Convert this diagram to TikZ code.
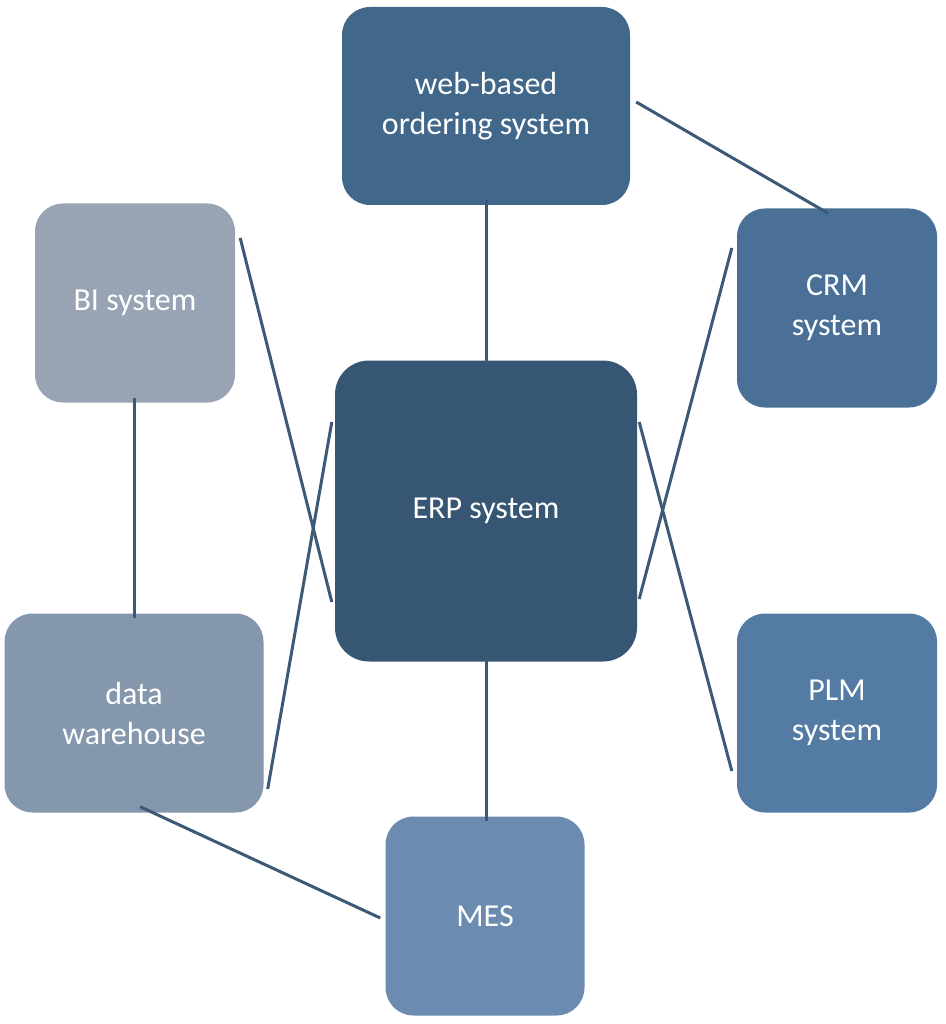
\documentclass[tikz,border=0pt]{standalone}
\usepackage{fontspec}
\setmainfont{Carlito}
\begin{document}
\begin{tikzpicture}[x=1pt,y=-1pt,
  box/.style={draw=none,rounded corners=28pt,text=white,align=center,
    font=\fontsize{32}{40}\selectfont,inner sep=0pt},
  conn/.style={draw=lineC,line width=3pt}]
\definecolor{lineC}{HTML}{3C5A78}
\definecolor{cWeb}{HTML}{41678B}
\definecolor{cCRM}{HTML}{4A7098}
\definecolor{cERP}{HTML}{375674}
\definecolor{cBI}{HTML}{98A4B3}
\definecolor{cDW}{HTML}{8597AD}
\definecolor{cPLM}{HTML}{537BA4}
\definecolor{cMES}{HTML}{6C8BB0}
\useasboundingbox (0,0) rectangle (945,1024);
\node[box,fill=cWeb,minimum width=288pt,minimum height=198pt] (web) at (486,106) {web-based\\ordering system};
\node[box,fill=cCRM,minimum width=200pt,minimum height=199pt] (crm) at (837,308) {CRM\\system};
\node[box,fill=cERP,minimum width=302pt,minimum height=301pt,rounded corners=34pt] (erp) at (486,511) {ERP system};
\node[box,fill=cBI,minimum width=200pt,minimum height=199pt] (bi) at (135,303) {BI system};
\node[box,fill=cDW,minimum width=259pt,minimum height=199pt] (dw) at (134,713) {data\\warehouse};
\node[box,fill=cPLM,minimum width=200pt,minimum height=199pt] (plm) at (837,713) {PLM\\system};
\node[box,fill=cMES,minimum width=199pt,minimum height=199pt] (mes) at (485,916) {MES};
\draw[conn] ([yshift=5]web.south) -- ([yshift=-4]erp.north);
\draw[conn] ([xshift=6,yshift=4]web.east) -- ([xshift=-9,yshift=-5]crm.north);
\draw[conn] ([xshift=2,yshift=-88]erp.east) -- ([xshift=-5,yshift=60]crm.west);
\draw[conn] ([xshift=5,yshift=65]bi.east) -- ([xshift=-3,yshift=-91]erp.west);
\draw[conn] ([xshift=-1,yshift=5]bi.south) -- ([yshift=-5]dw.north);
\draw[conn] ([xshift=4,yshift=-76]dw.east) -- ([xshift=-3,yshift=89]erp.west);
\draw[conn] ([xshift=2,yshift=89]erp.east) -- ([xshift=-5,yshift=-58]plm.west);
\draw[conn] ([yshift=4]erp.south) -- ([xshift=1,yshift=-5]mes.north);
\draw[conn] ([xshift=6,yshift=6]dw.south) -- ([xshift=-5,yshift=-2]mes.west);
\end{tikzpicture}
\end{document}
